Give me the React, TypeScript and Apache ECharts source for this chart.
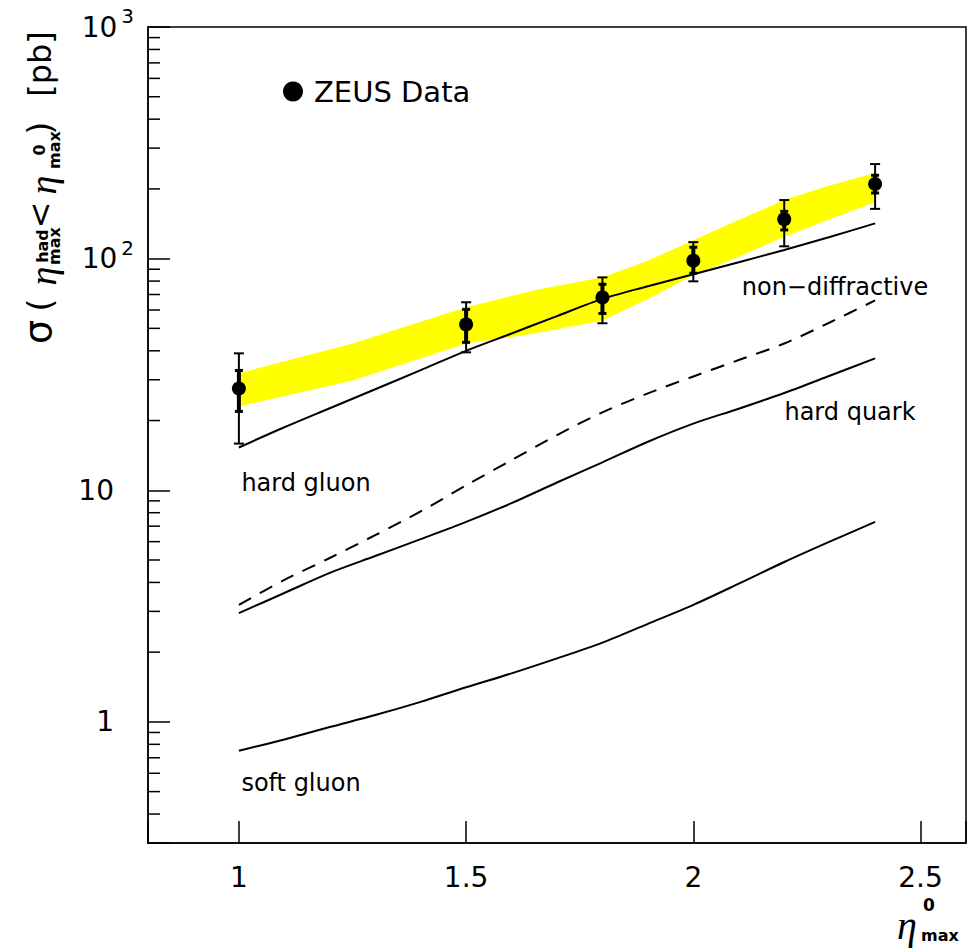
import React, { useEffect, useRef } from 'react';
import * as echarts from 'echarts';

// theory curves (x grid)
const curveX = [1.0, 1.1, 1.2, 1.3, 1.4, 1.5, 1.6, 1.7, 1.8, 1.9, 2.0, 2.1, 2.2, 2.3, 2.4];
const nonDiffractive = [15.3, 18.7, 22.6, 27.3, 33, 40, 47.5, 56.5, 67, 76, 85.6, 96.5, 109, 124, 142];
const dashedCurve = [3.2, 4.1, 5.1, 6.4, 8.1, 10.5, 13.5, 17.3, 21.7, 26.2, 31, 36.5, 43, 53, 66];
const hardQuark = [2.95, 3.6, 4.4, 5.2, 6.15, 7.3, 8.8, 10.8, 13.2, 16.2, 19.4, 22.5, 26.3, 31.2, 37.1];
const softGluon = [0.75, 0.84, 0.95, 1.07, 1.22, 1.41, 1.62, 1.88, 2.2, 2.65, 3.2, 3.95, 4.9, 6.0, 7.3];

// yellow band
const bandX = [1.0, 1.25, 1.5, 1.65, 1.8, 1.9, 2.0, 2.1, 2.2, 2.3, 2.4];
const bandLow = [23, 29.8, 43, 47.5, 54, 67, 84.8, 102, 124, 148, 175];
const bandHigh = [32, 43, 61.6, 73, 83, 98, 120, 147, 179, 207, 234];

// ZEUS data
const dataX = [1.0, 1.5, 1.8, 2.0, 2.2, 2.4];
const dataY = [27.5, 52, 68, 98, 148, 210];
const statLow = [21.9, 43.5, 58, 86.5, 133, 192];
const statHigh = [32.9, 60.4, 77.5, 112, 160, 229];
const totLow = [15.9, 39.4, 52.6, 79.8, 113, 164];
const totHigh = [39, 64.8, 83, 117.8, 179, 256];

const minorTicks = [0.4, 0.5, 0.6, 0.7, 0.8, 0.9, 2, 3, 4, 5, 6, 7, 8, 9, 20, 30, 40, 50, 60, 70, 80, 90, 200, 300, 400, 500, 600, 700, 800, 900];
const xTickLabels = ['1', '1.5', '2', '2.5'];

const FONT = '"DejaVu Sans", sans-serif';

export default function App() {
  const ref = useRef<HTMLDivElement>(null);
  useEffect(() => {
    const chart = echarts.init(ref.current!, null, { renderer: 'svg' });
    const pair = (xs: number[], ys: number[]) => xs.map((x, i) => [x, ys[i]]);
    const lineStyle = { color: '#000', width: 2 };
    const rot = Math.PI / 2;
    const t = (text: string, x: number, y: number, size: number, extra: any = {}) => ({
      type: 'text', x, y, rotation: extra.rotation || 0, z: 100,
      style: {
        text, fill: '#000', align: 'center', verticalAlign: 'middle',
        font: `${extra.style || ''} ${extra.weight || 'normal'} ${size}px ${extra.family || FONT}`,
      },
    });
    const eta = '"Liberation Serif", serif';
    const option: any = {
      animation: false,
      grid: { left: 148, top: 27, width: 818, height: 816, show: true, borderColor: '#000', borderWidth: 1.5 },
      legend: {
        data: [{ name: 'ZEUS Data', icon: 'circle' }],
        left: 283, top: 77, padding: 0, itemWidth: 20, itemHeight: 20,
        textStyle: { fontSize: 29, fontFamily: FONT, color: '#000', padding: [0, 0, 0, 6] },
      },
      xAxis: {
        type: 'value', min: 0.8, max: 2.6, splitNumber: 4,
        axisLine: { lineStyle: { color: '#000', width: 1.5 } },
        axisTick: { inside: true, length: 22, lineStyle: { color: '#000', width: 1.5 } },
        splitLine: { show: false },
        axisLabel: {
          margin: 20, color: '#000', fontSize: 28, fontFamily: FONT,
          formatter: (v: number) => {
            const s = String(Math.round(v * 10) / 10);
            return xTickLabels.indexOf(s) >= 0 ? s : '';
          },
        },
      },
      yAxis: {
        type: 'log', logBase: 10, min: 0.3, max: 1000,
        axisLine: { lineStyle: { color: '#000', width: 1.5 } },
        axisTick: { inside: true, length: 22, lineStyle: { color: '#000', width: 1.5 } },
        splitLine: { show: false },
        axisLabel: {
          margin: 14, color: '#000',
          formatter: (v: number) => {
            if (Math.abs(v - 1000) < 1e-6) return '{b|10}{s|3}';
            if (Math.abs(v - 100) < 1e-6) return '{b|10}{s|2}';
            if (Math.abs(v - 10) < 1e-6) return '{p|10}';
            if (Math.abs(v - 1) < 1e-6) return '{p|1}';
            return '';
          },
          rich: {
            b: { fontSize: 28, fontFamily: FONT, color: '#000', lineHeight: 42 },
            s: { fontSize: 20, fontFamily: FONT, color: '#000', lineHeight: 20, verticalAlign: 'top', padding: [0, 0, 0, 4] },
            p: { fontSize: 28, fontFamily: FONT, color: '#000', lineHeight: 42, padding: [0, 20, 0, 0] },
          },
        },
      },
      series: [
        {
          type: 'custom', name: 'band', z: 1, silent: true,
          data: bandX.map((x, i) => [x, bandLow[i], bandHigh[i]]),
          encode: { x: 0, y: 1 },
          renderItem: (params: any, api: any) => {
            if (params.dataIndex !== 0) return null;
            const up = bandX.map((x, i) => api.coord([x, bandHigh[i]]));
            const lo = bandX.map((x, i) => api.coord([x, bandLow[i]])).reverse();
            return { type: 'polygon', shape: { points: up.concat(lo) }, style: { fill: '#ffff00', stroke: null } };
          },
        },
        {
          type: 'custom', name: 'minor', z: 5, silent: true,
          data: minorTicks.map((v) => [0.8, v]),
          encode: { x: 0, y: 1 },
          renderItem: (params: any, api: any) => {
            const p = api.coord([0.8, api.value(1)]);
            return { type: 'line', shape: { x1: p[0], y1: p[1], x2: p[0] + 12, y2: p[1] }, style: { stroke: '#000', lineWidth: 1.5 } };
          },
        },
        { type: 'line', name: 'non-diffractive', z: 2, data: pair(curveX, nonDiffractive), showSymbol: false, smooth: 0.3, lineStyle },
        { type: 'line', name: 'dashed', z: 2, data: pair(curveX, dashedCurve), showSymbol: false, smooth: 0.3, lineStyle: { ...lineStyle, type: [14, 10] } },
        { type: 'line', name: 'hard quark', z: 2, data: pair(curveX, hardQuark), showSymbol: false, smooth: 0.3, lineStyle },
        { type: 'line', name: 'soft gluon', z: 2, data: pair(curveX, softGluon), showSymbol: false, smooth: 0.3, lineStyle },
        {
          type: 'custom', name: 'errors', z: 3, silent: true,
          data: dataX.map((x, i) => [x, dataY[i], statLow[i], statHigh[i], totLow[i], totHigh[i]]),
          encode: { x: 0, y: 1 },
          renderItem: (params: any, api: any) => {
            const x = api.value(0);
            const sl = api.coord([x, api.value(2)]);
            const sh = api.coord([x, api.value(3)]);
            const tl = api.coord([x, api.value(4)]);
            const th = api.coord([x, api.value(5)]);
            const cx = tl[0];
            const thin = { stroke: '#000', lineWidth: 2 };
            const thick = { stroke: '#000', lineWidth: 4 };
            return {
              type: 'group',
              children: [
                { type: 'line', shape: { x1: cx, y1: tl[1], x2: cx, y2: th[1] }, style: thin },
                { type: 'line', shape: { x1: cx - 5, y1: tl[1], x2: cx + 5, y2: tl[1] }, style: thin },
                { type: 'line', shape: { x1: cx - 5, y1: th[1], x2: cx + 5, y2: th[1] }, style: thin },
                { type: 'line', shape: { x1: cx, y1: sl[1], x2: cx, y2: sh[1] }, style: thick },
                { type: 'line', shape: { x1: cx - 4, y1: sl[1], x2: cx + 4, y2: sl[1] }, style: { stroke: '#000', lineWidth: 3 } },
                { type: 'line', shape: { x1: cx - 4, y1: sh[1], x2: cx + 4, y2: sh[1] }, style: { stroke: '#000', lineWidth: 3 } },
              ],
            };
          },
        },
        {
          type: 'scatter', name: 'ZEUS Data', z: 4, symbol: 'circle', symbolSize: 14,
          itemStyle: { color: '#000', opacity: 1 }, data: pair(dataX, dataY),
        },
      ],
      graphic: [
        t('non\u2212diffractive', 835, 287, 24),
        t('hard quark', 850, 412, 24),
        t('hard gluon', 306, 483, 24),
        t('soft gluon', 301, 783, 24),
        // y-axis title
        t('\u03c3', 38, 332, 38, { rotation: rot }),
        t('(', 40, 305, 34, { rotation: rot }),
        t('\u03b7', 43, 276, 38, { rotation: rot, family: eta, style: 'italic' }),
        t('had', 42, 246, 16, { rotation: rot, weight: 'bold' }),
        t('max', 54, 246, 16, { rotation: rot, weight: 'bold' }),
        t('<', 40, 215, 32, { rotation: rot }),
        t('\u03b7', 43, 185, 38, { rotation: rot, family: eta, style: 'italic' }),
        t('0', 39, 150, 16, { rotation: rot, weight: 'bold' }),
        t('max', 54, 150, 16, { rotation: rot, weight: 'bold' }),
        t(')', 40, 128, 34, { rotation: rot }),
        t('[pb]', 40, 64, 32, { rotation: rot }),
        // x-axis title
        t('\u03b7', 907, 925, 40, { family: eta, style: 'italic' }),
        t('0', 929, 905, 17, { weight: 'bold' }),
        t('max', 940, 935, 16, { weight: 'bold' }),
      ],
    };
    chart.setOption(option);
    return () => chart.dispose();
  }, []);
  return <div ref={ref} style={{ position: 'absolute', left: 0, top: 0, width: 969, height: 950 }} />;
}
